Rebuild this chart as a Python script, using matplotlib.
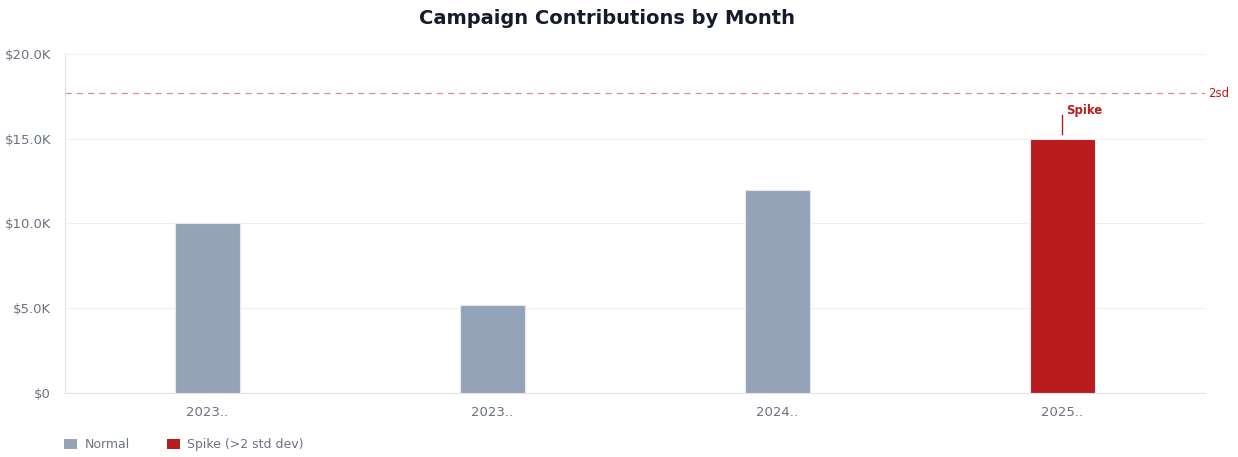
import matplotlib

matplotlib.use("Agg")
import matplotlib.pyplot as plt
import numpy as np
from matplotlib.patches import Patch
from matplotlib.ticker import FuncFormatter

months = ["2023..", "2023..", "2024..", "2025.."]
amounts = [10000, 5200, 12000, 15000]
is_spike = [False, False, False, True]

NORMAL, SPIKE = "#94a3b8", "#b91c1c"
INK, INK2, GRID = "#141b2d", "#6b7280", "#eeeff2"

plt.rcParams.update({"font.family": "DejaVu Sans", "font.size": 10})

mean = np.mean(amounts)
threshold = mean + 2 * np.std(amounts)

fig = plt.figure(figsize=(12.38, 4.57), dpi=100)
ax = fig.add_axes([0.0525, 0.140, 0.9208, 0.742])

x = np.arange(len(months))
colors = [SPIKE if s else NORMAL for s in is_spike]
ax.bar(x, amounts, width=0.225, color=colors, edgecolor="#e6e9ef",
       linewidth=0.8, zorder=3)

ax.axhline(threshold, color=SPIKE, alpha=0.5, linestyle=(0, (5, 4)),
           linewidth=0.9, zorder=2)
ax.annotate("2sd", (1.0, threshold), xycoords=("axes fraction", "data"),
            xytext=(2, 0), textcoords="offset points", color=SPIKE,
            fontsize=8.5, va="center", ha="left")

for xi, v, s in zip(x, amounts, is_spike):
    if s:
        ax.plot([xi, xi], [v + 250, v + 1400], color=SPIKE, linewidth=1,
                zorder=4)
        ax.annotate("Spike", (xi, v + 1400), xytext=(3, 3),
                    textcoords="offset points", color=SPIKE, fontsize=8.5,
                    fontweight="bold", va="center", ha="left")

ax.set_xlim(-0.5, len(months) - 0.5)
ax.set_ylim(0, 20000)
ax.set_yticks([0, 5000, 10000, 15000, 20000])
ax.yaxis.set_major_formatter(FuncFormatter(
    lambda v, _: "$0" if v == 0 else f"${v / 1000:.1f}K"))
ax.set_xticks(x, months)
ax.tick_params(axis="both", length=0, colors=INK2, labelsize=9.5)
ax.tick_params(axis="x", pad=9)
ax.tick_params(axis="y", pad=10)
ax.grid(True, axis="y", color=GRID, linewidth=0.8, zorder=0)
ax.set_axisbelow(True)
ax.spines[["top", "right"]].set_visible(False)
ax.spines["left"].set_color("#dfe2e8")
ax.spines["bottom"].set_color("#dfe2e8")

fig.suptitle("Campaign Contributions by Month", x=0.49, y=0.98,
             fontsize=14, fontweight="bold", color=INK)

handles = [Patch(facecolor=NORMAL, label="Normal"),
           Patch(facecolor=SPIKE, label="Spike (>2 std dev)")]
leg = fig.legend(handles=handles, loc="lower left",
                 bbox_to_anchor=(0.043, -0.012), ncol=2, frameon=False,
                 handlelength=1.0, handleheight=0.9, handletextpad=0.6,
                 columnspacing=3.0, fontsize=9)
for t in leg.get_texts():
    t.set_color(INK2)

fig.savefig("out.png", dpi=100)
